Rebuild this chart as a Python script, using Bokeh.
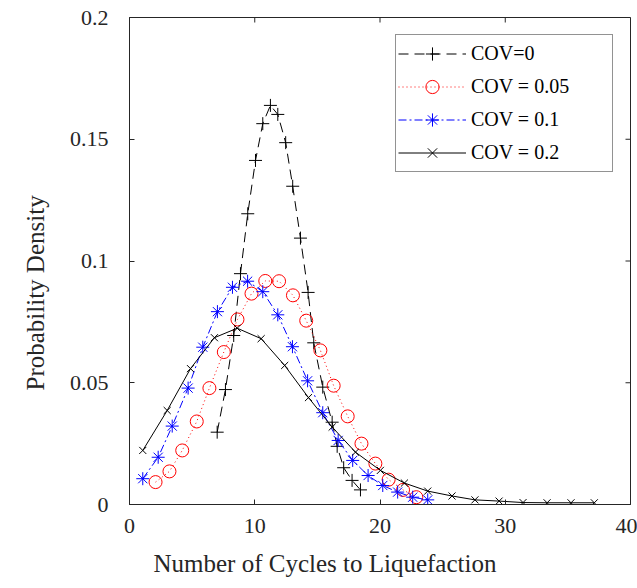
import math
from bokeh.plotting import figure
from bokeh.models import FixedTicker, Legend, LegendItem, Range1d, Title
from bokeh.embed import file_html
from bokeh.resources import INLINE

# ---------------- data ----------------
x_ticks = [0, 10, 20, 30, 40]
x_tick_labels = ["0", "10", "20", "30", "40"]
y_ticks = [0, 0.05, 0.1, 0.15, 0.2]
y_tick_labels = ["0", "0.05", "0.1", "0.15", "0.2"]

x_title = "Number of Cycles to Liquefaction"
y_title = "Probability Density"
series_names = ["COV=0", "COV = 0.05", "COV = 0.1", "COV = 0.2"]

cov0_x = [7.00, 7.66, 8.32, 8.86, 9.44, 10.06, 10.64, 11.25, 11.84, 12.47,
          13.03, 13.65, 14.26, 14.71, 15.43, 16.18, 16.58, 17.10, 17.77, 18.44]
cov0_y = [0.0297, 0.0472, 0.0694, 0.0948, 0.1194, 0.1413, 0.1564, 0.1639, 0.1602, 0.1486,
          0.1307, 0.1094, 0.0871, 0.0664, 0.0482, 0.0338, 0.0239, 0.0151, 0.0099, 0.0060]

cov005_x = [2.08, 3.19, 4.21, 5.37, 6.38, 7.53, 8.62, 9.74, 10.84, 11.94,
            13.05, 14.11, 15.24, 16.30, 17.42, 18.52, 19.63, 20.69, 21.84, 22.90]
cov005_y = [0.0092, 0.0136, 0.0222, 0.0341, 0.0478, 0.0626, 0.0760, 0.0866, 0.0918, 0.0917,
            0.0859, 0.0755, 0.0633, 0.0488, 0.0362, 0.0250, 0.0168, 0.0102, 0.0060, 0.0030]

cov01_x = [1.06, 2.29, 3.41, 4.68, 5.85, 7.02, 8.22, 9.43, 10.64, 11.84,
           13.01, 14.22, 15.43, 16.66, 17.82, 19.05, 20.22, 21.41, 22.61, 23.81]
cov01_y = [0.0106, 0.0194, 0.0322, 0.0478, 0.0646, 0.0792, 0.0892, 0.0917, 0.0874, 0.0779,
           0.0648, 0.0508, 0.0377, 0.0263, 0.0181, 0.0119, 0.0078, 0.0051, 0.0030, 0.0019]

cov02_x = [1.06, 3.01, 4.87, 6.78, 8.60, 10.51, 12.39, 14.29, 16.18, 18.04,
           20.03, 21.95, 23.81, 25.75, 27.58, 29.51, 31.42, 33.34, 35.25, 37.11]
cov02_y = [0.0222, 0.0386, 0.0558, 0.0685, 0.0724, 0.0681, 0.0571, 0.0439, 0.0318, 0.0215,
           0.0140, 0.0088, 0.0055, 0.0035, 0.0019, 0.0014, 0.0008, 0.0007, 0.0007, 0.0007]

# ---------------- figure ----------------
FONT = "Liberation Serif, Times New Roman, serif"
AX = "#262626"
X_MIN, X_MAX = x_ticks[0], x_ticks[-1]
Y_MIN, Y_MAX = y_ticks[0], y_ticks[-1]

p = figure(width=637, height=588, output_backend="svg", toolbar_location=None,
           x_range=Range1d(X_MIN, X_MAX), y_range=Range1d(Y_MIN, Y_MAX),
           min_border_left=129, min_border_right=7, min_border_top=17, min_border_bottom=84)
p.outline_line_color = AX
p.outline_line_width = 1
p.xgrid.visible = False
p.ygrid.visible = False
p.background_fill_color = "white"
p.border_fill_color = "white"


def style_axis(ax, ticks, labels):
    ax.ticker = FixedTicker(ticks=ticks)
    ax.major_label_overrides = {t: l for t, l in zip(ticks, labels)}
    ax.axis_line_color = AX
    ax.axis_line_width = 1
    ax.major_tick_line_color = AX
    ax.major_tick_in = 5
    ax.major_tick_out = 0
    ax.minor_tick_line_color = None
    ax.major_label_text_font = FONT
    ax.major_label_text_color = AX
    ax.major_label_text_font_size = "22px"


xa = p.xaxis[0]
style_axis(xa, x_ticks, x_tick_labels)
xa.major_label_standoff = 14

ya = p.yaxis[0]
style_axis(ya, y_ticks, y_tick_labels)
ya.major_label_standoff = 21

# axis titles (placed like the reference, not centred on the box)
xt = Title(text=x_title, align="left", offset=24, standoff=24,
           text_font=FONT, text_font_size="25px", text_font_style="normal",
           text_color=AX)
p.add_layout(xt, "below")

yt = Title(text=y_title, align="left", offset=114, standoff=36,
           text_font=FONT, text_font_size="25px", text_font_style="normal",
           text_color=AX)
p.add_layout(yt, "left")

# inward ticks on the top and right edges of the box
p.ray(x=x_ticks, y=[Y_MAX] * len(x_ticks), length=5, length_units="screen",
      angle=-math.pi / 2, line_color=AX, line_width=1)
p.ray(x=[X_MAX] * len(y_ticks), y=y_ticks, length=5, length_units="screen",
      angle=math.pi, line_color=AX, line_width=1)

# ---------------- series ----------------
l0 = p.line(cov0_x, cov0_y, line_color="black", line_width=1, line_dash="10 6")
s0 = p.scatter(cov0_x, cov0_y, marker="cross", size=13, line_color="black", line_width=1)

l1 = p.line(cov005_x, cov005_y, line_color="red", line_width=1, line_dash="1 3")
s1 = p.scatter(cov005_x, cov005_y, marker="circle", size=13, line_color="red",
               fill_color=None, line_width=1)

l2 = p.line(cov01_x, cov01_y, line_color="blue", line_width=1, line_dash="8 3 2 3")
s2 = p.scatter(cov01_x, cov01_y, marker="asterisk", size=13, line_color="blue", line_width=1)

l3 = p.line(cov02_x, cov02_y, line_color="black", line_width=1)
s3 = p.scatter(cov02_x, cov02_y, marker="x", size=10, line_color="black", line_width=1)

legend = Legend(items=[
    LegendItem(label=series_names[0], renderers=[l0, s0]),
    LegendItem(label=series_names[1], renderers=[l1, s1]),
    LegendItem(label=series_names[2], renderers=[l2, s2]),
    LegendItem(label=series_names[3], renderers=[l3, s3]),
], location="top_right")
legend.margin = 17
legend.padding = 2
legend.spacing = 0
legend.glyph_width = 68
legend.glyph_height = 33
legend.label_standoff = 5
legend.label_width = 139
legend.label_text_font = FONT
legend.label_text_font_size = "20px"
legend.label_text_baseline = "top"
legend.label_text_color = "black"
legend.border_line_color = AX
legend.border_line_width = 1
legend.background_fill_color = "white"
legend.background_fill_alpha = 1
p.add_layout(legend, "center")

open("out.html", "w").write(file_html(p, INLINE))
